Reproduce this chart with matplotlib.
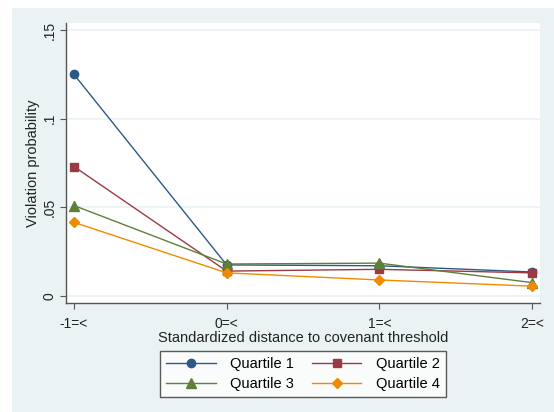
import matplotlib.pyplot as plt
from matplotlib.patches import Rectangle

plt.rcParams["font.family"] = ["Liberation Sans", "DejaVu Sans"]

# data
x_pos = [-1, 0, 1, 2]
x_labels = ["-1=<", "0=<", "1=<", "2=<"]
quartile_1 = [0.125, 0.0175, 0.017, 0.0135]
quartile_2 = [0.073, 0.014, 0.015, 0.013]
quartile_3 = [0.051, 0.018, 0.0185, 0.0075]
quartile_4 = [0.0415, 0.013, 0.009, 0.0055]
y_ticks = [0, 0.05, 0.1, 0.15]
y_labels = ["0", ".05", ".1", ".15"]

bg = "#EAF2F3"
axis_col = "#555555"

fig = plt.figure(figsize=(5.54, 4.12), dpi=100)
fig.patch.set_facecolor("white")
fig.add_artist(Rectangle((12 / 554, 0), 1, 1 - 8 / 412, transform=fig.transFigure,
                         facecolor=bg, edgecolor="none", zorder=-10))

ax = fig.add_axes([66 / 554, 1 - 303 / 412, (540 - 66) / 554, (303 - 23) / 412])
ax.set_facecolor("white")

series = [
    ("Quartile 1", quartile_1, "#2B5A86", "o", 6),
    ("Quartile 2", quartile_2, "#9A3A44", "s", 6),
    ("Quartile 3", quartile_3, "#5E8038", "^", 6.5),
    ("Quartile 4", quartile_4, "#F08A00", "D", 5.5),
]
handles = {}
for name, vals, col, mk, ms in series:
    h, = ax.plot(x_pos, vals, color=col, marker=mk, markersize=ms, linewidth=1.0,
                 label=name, zorder=3)
    handles[name] = h

ax.set_xlim(-1.052, 2.052)
ax.set_ylim(-0.004, 0.154)
ax.set_xticks(x_pos)
ax.set_xticklabels(x_labels, fontsize=10)
ax.set_yticks(y_ticks)
ax.set_yticklabels(y_labels, fontsize=10, rotation=90, va="center")
ax.grid(axis="y", color=bg, linewidth=1.2, zorder=0)
ax.set_axisbelow(True)

for side in ["top", "right"]:
    ax.spines[side].set_visible(False)
for side in ["left", "bottom"]:
    ax.spines[side].set_color(axis_col)
    ax.spines[side].set_linewidth(1.0)
ax.tick_params(colors=axis_col, labelcolor="#222222", length=4, width=0.8)
ax.tick_params(axis="x", pad=6)
ax.tick_params(axis="y", pad=2.5)

ax.set_xlabel("Standardized distance to covenant threshold", fontsize=10.5,
              color="#222222", labelpad=0)
ax.set_ylabel("Violation probability", fontsize=10.5, color="#222222")
ax.yaxis.set_label_coords(-0.054, 0.5)

order = ["Quartile 1", "Quartile 3", "Quartile 2", "Quartile 4"]
leg = fig.legend([handles[n] for n in order], order, ncol=2, fontsize=10.5,
                 loc="center", bbox_to_anchor=(303 / 554, 1 - 374 / 412),
                 frameon=True, fancybox=False, edgecolor="#333333",
                 handlelength=3.4, handletextpad=1.0, columnspacing=1.2,
                 borderpad=0.4, labelspacing=0.45)
leg.get_frame().set_linewidth(1.0)

plt.savefig("out.png", dpi=100)
